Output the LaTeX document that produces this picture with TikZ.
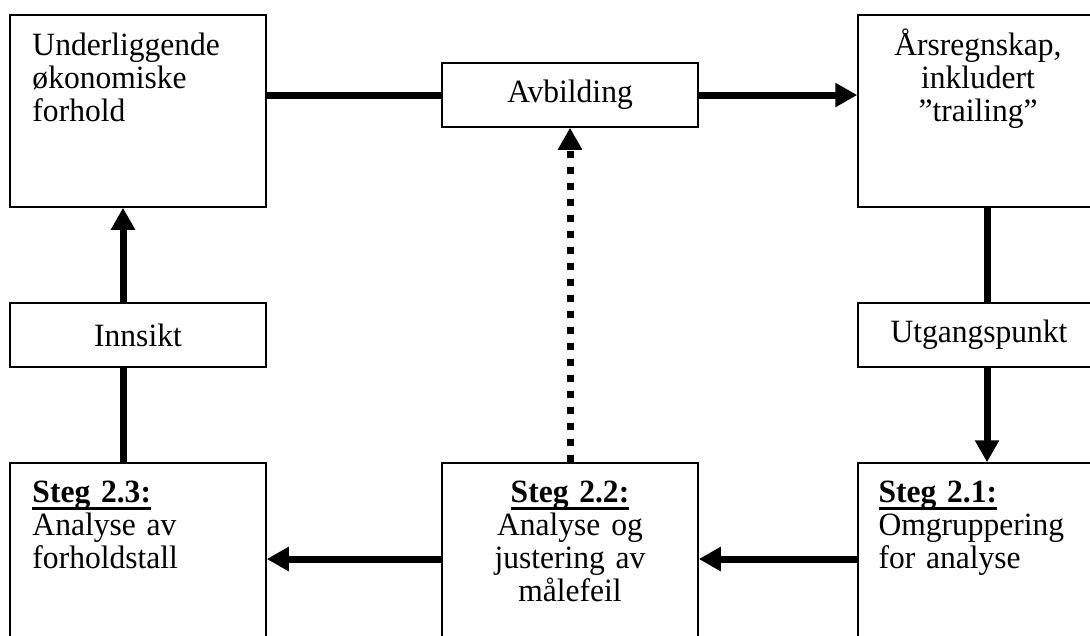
\documentclass[tikz,border=0pt]{standalone}
\usepackage{fontspec}
\setmainfont{Liberation Serif}[FakeStretch=0.97]
\usepackage{tikz}
\usetikzlibrary{arrows.meta,positioning}

\newcommand{\stegtitle}[1]{\leavevmode\setbox0=\hbox{\bfseries #1}\rlap{\rule[-3pt]{\wd0}{1.2pt}}\box0}

\tikzset{
  boks/.style={draw, line width=0.6pt, inner sep=0pt, minimum width=102.4pt,
    font=\fontsize{13pt}{13.2pt}\selectfont},
  storboks/.style={boks, minimum height=76.8pt},
  smalboks/.style={boks, minimum height=25.6pt},
  smal/.style={minimum width=96.8pt},
  tekst/.style={inner sep=0pt, text width=92pt, font=\fontsize{13pt}{13.2pt}\selectfont},
  strek/.style={line width=2.8pt},
  pil/.style={strek, -{Triangle[width=9.2pt,length=8.8pt]}},
  prikk/.style={pil, dash pattern=on 2.8pt off 3.6pt}
}

\begin{document}
\begin{tikzpicture}[x=0.4pt,y=-0.4pt]
\useasboundingbox (0,0) rectangle (1090,635);
\clip (0,0) rectangle (1090,635);

% boksene
\node[storboks] (okon) at (138,111) {};
\node[smalboks] (avb) at (570,95) {Avbilding};
\node[storboks, smal] (aars) at (979,111) {};
\node[smalboks] (innsikt) at (138,335) {Innsikt};
\node[smalboks, smal] (utg) at (979,335) {Utgangspunkt};
\node[storboks] (steg23) at (138,559) {};
\node[storboks] (steg22) at (570,559) {};
\node[storboks, smal] (steg21) at (979,559) {};

% tekst i boksene
\node[tekst, align=left, anchor=base west] (okontekst) at (32,55) {Underliggende\\økonomiske\\forhold};
\node[tekst, align=center, anchor=base] (aarstekst) at (978,55) {Årsregnskap,\\inkludert\\”trailing”};
\node[tekst, align=left, anchor=base west] (steg23tekst) at (32,502) {\stegtitle{Steg 2.3:}\\Analyse av\\forholdstall};
\node[tekst, align=center, anchor=base] (steg22tekst) at (570,502) {\stegtitle{Steg 2.2:}\\Analyse og\\justering av\\målefeil};
\node[tekst, align=left, anchor=base west] (steg21tekst) at (878,502) {\stegtitle{Steg 2.1:}\\Omgruppering\\for analyse};

% piler
\draw[strek] (avb.west) -- (avb.west -| okon.east);
\draw[pil] (avb.east) -- (avb.east -| aars.west);
\draw[strek] ([xshift=3.2pt]aars.south) -- ([xshift=3.2pt]utg.north);
\draw[pil] ([xshift=3.2pt]utg.south) -- ([xshift=3.2pt]steg21.north);
\draw[pil] (steg21.west) -- (steg22.east);
\draw[pil] (steg22.west) -- (steg23.east);
\draw[strek] ([xshift=-6pt]steg23.north) -- ([xshift=-6pt]innsikt.south);
\draw[pil] ([xshift=-6pt]innsikt.north) -- ([xshift=-6pt]okon.south);
\draw[prikk] (steg22.north) -- (avb.south);
\end{tikzpicture}
\end{document}
